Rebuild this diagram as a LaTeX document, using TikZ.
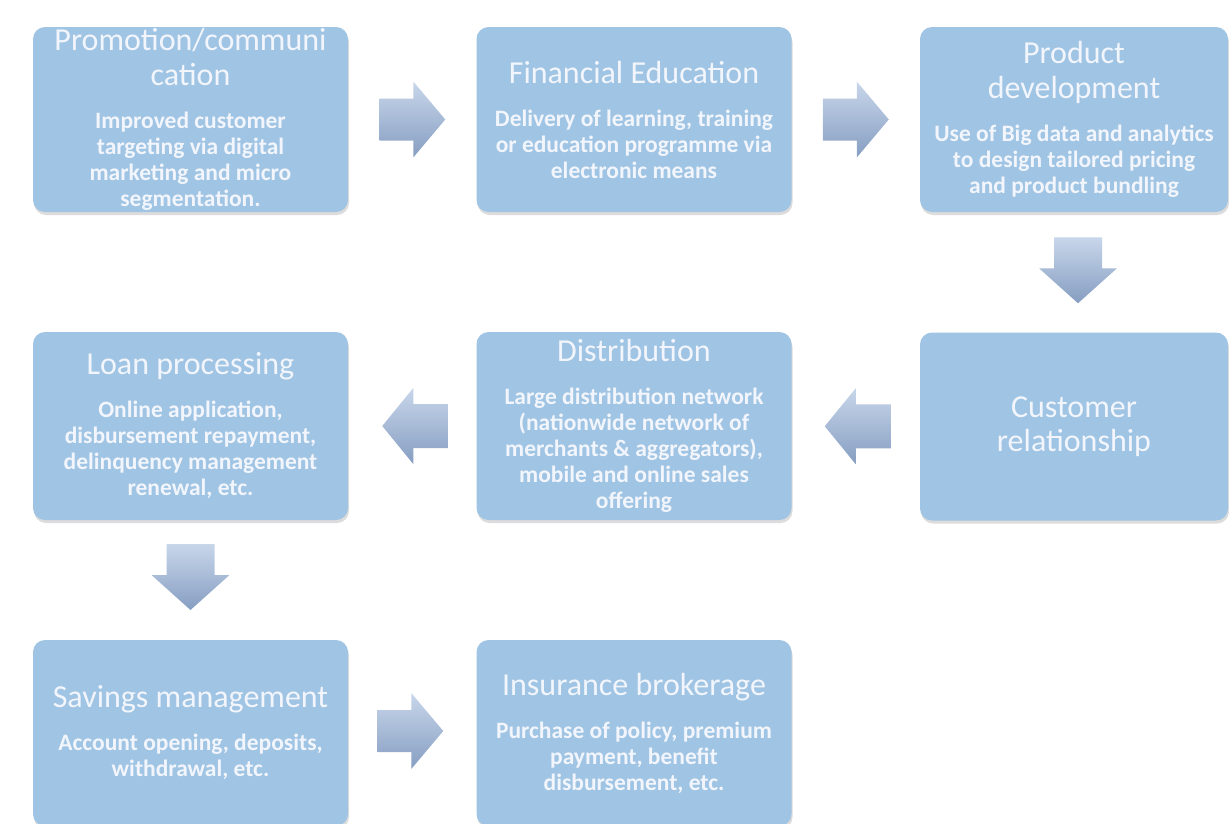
\documentclass[tikz,border=0pt]{standalone}
\usepackage{fontspec}
\setmainfont{Carlito}
\usetikzlibrary{calc,shadows}

\definecolor{boxblue}{RGB}{160,196,227}
\definecolor{boxtext}{RGB}{242,246,252}
\definecolor{arrowlight}{RGB}{200,214,234}
\definecolor{arrowdark}{RGB}{134,158,194}

% fonts for the stage titles and descriptions (natural word spacing)
\newcommand\boxtitle{\fontsize{32}{34.5}\selectfont\spaceskip=\fontdimen2\font\xspaceskip=\fontdimen2\font\relax}
\newcommand\boxbody{\fontsize{23.5}{26}\selectfont\bfseries\spaceskip=\fontdimen2\font\xspaceskip=\fontdimen2\font\relax}
\newcommand\boxgap{\vspace{17pt}}

\tikzset{
  stagebox/.style={fill=boxblue, rounded corners=12pt, text=boxtext,
    align=flush center, text width=300pt, inner sep=0pt,
    minimum width=315pt, minimum height=186pt,
    drop shadow={shadow xshift=1pt, shadow yshift=-3pt, opacity=.3, fill=black!45}},
  arrowshade/.style={top color=arrowlight, bottom color=arrowdark, draw=none},
  pics/rarrow/.style={code={
    \shade[arrowshade] (-33,-21) -- (1,-21) -- (1,-38) -- (33,0)
      -- (1,38) -- (1,21) -- (-33,21) -- cycle;}},
  pics/larrow/.style={code={
    \shade[arrowshade] (33,-22) -- (-2,-22) -- (-2,-38) -- (-33,0)
      -- (-2,38) -- (-2,22) -- (33,22) -- cycle;}},
  pics/darrow/.style={code={
    \shade[arrowshade] (-24,-33) -- (24,-33) -- (24,-2) -- (39,-2)
      -- (0,33) -- (-39,-2) -- (-24,-2) -- cycle;}},
}

\begin{document}
\begin{tikzpicture}[x=1pt, y=-1pt]
  \useasboundingbox (0,0) rectangle (1229,823);
  \clip (0,0) rectangle (1229,823);

  % first row
  \node[stagebox, minimum height=185pt] (promo) at (190.5,119.5)
    {{\boxtitle Promotion/communi\\cation\par}\boxgap
     {\boxbody Improved customer\\targeting via digital\\marketing and micro\\segmentation.\par}};
  \node[stagebox, minimum height=185pt] (educ) at (634,119.5)
    {{\boxtitle Financial Education\par}\boxgap
     {\boxbody Delivery of learning, training\\or education programme via\\electronic means\par}};
  \node[stagebox, minimum height=185pt, minimum width=308pt] (prod) at (1074,119.5)
    {{\boxtitle Product\\development\par}\boxgap
     {\boxbody Use of Big data and analytics\\to design tailored pricing\\and product bundling\par}};

  % second row
  \node[stagebox, minimum height=188pt, minimum width=308pt] (cust) at (1074,426.5)
    {{\boxtitle Customer\\relationship\par}};
  \node[stagebox, minimum height=188pt] (distr) at (634,426)
    {{\boxtitle Distribution\par}\boxgap
     {\boxbody Large distribution network\\(nationwide network of\\merchants \& aggregators),\\mobile and online sales\\offering\par}};
  \node[stagebox, minimum height=188pt] (loan) at (190.5,426)
    {{\boxtitle Loan processing\par}\boxgap
     {\boxbody Online application,\\disbursement repayment,\\delinquency management\\renewal, etc.\par}};

  % third row
  \node[stagebox] (save) at (190.5,733)
    {{\boxtitle Savings management\par}\boxgap
     {\boxbody Account opening, deposits,\\withdrawal, etc.\par}};
  \node[stagebox] (insur) at (634,733)
    {{\boxtitle Insurance brokerage\par}\boxgap
     {\boxbody Purchase of policy, premium\\payment, benefit\\disbursement, etc.\par}};

  % block arrows between the stages
  \pic at ($(promo.east)!0.5!(educ.west)$) {rarrow};
  \pic at ($(educ.east)!0.5!(prod.west)$) {rarrow};
  \pic at ($(prod.south)!0.5!(cust.north)+(4,-2)$) {darrow};
  \pic at ($(cust.west)!0.5!(distr.east)+(2,0)$) {larrow};
  \pic at ($(distr.west)!0.5!(loan.east)+(3,0)$) {larrow};
  \pic at ($(loan.south)!0.5!(save.north)+(0,-3)$) {darrow};
  \pic at ($(save.east)!0.5!(insur.west)+(-2,-2)$) {rarrow};
\end{tikzpicture}
\end{document}
